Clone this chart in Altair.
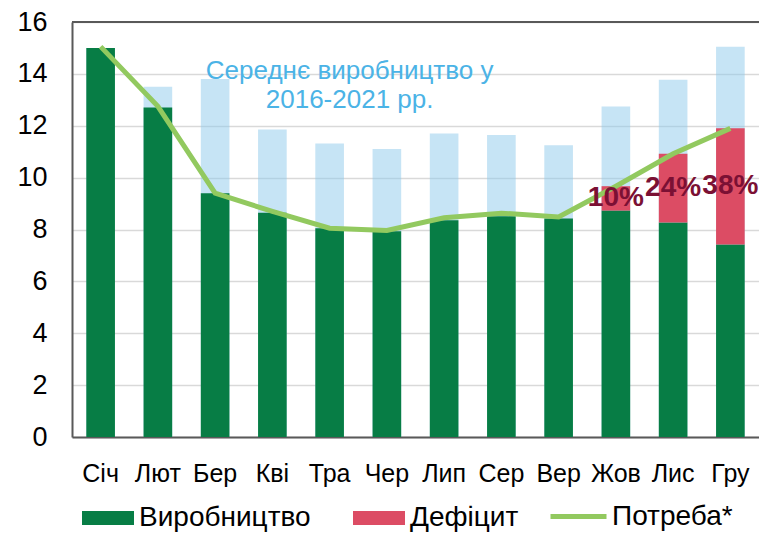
import altair as alt
import pandas as pd

months = ["Січ", "Лют", "Бер", "Кві", "Тра", "Чер", "Лип", "Сер", "Вер", "Жов", "Лис", "Гру"]
avg_2016_2021 = [15.0, 13.5, 13.8, 11.86, 11.32, 11.1, 11.7, 11.64, 11.25, 12.74, 13.77, 15.05]
production = [15.0, 12.7, 9.4, 8.65, 8.05, 7.93, 8.36, 8.51, 8.42, 8.73, 8.27, 7.42]
deficit = [0, 0, 0, 0, 0, 0, 0, 0, 0, 0.94, 2.65, 4.48]
demand = [15.05, 12.75, 9.4, 8.7, 8.05, 7.96, 8.45, 8.63, 8.48, 9.67, 10.92, 11.9]
deficit_labels = ["", "", "", "", "", "", "", "", "", "10%", "24%", "38%"]
series_names = ["Виробництво", "Дефіцит"]
demand_name = "Потреба*"
note_text = ["Середнє виробництво у\n2016-2021 рр."]
note_month = ["Тра"]
note_value = [14.1]
y_ticks = [0, 2, 4, 6, 8, 10, 12, 14, 16]

GREEN = "#077D45"
RED = "#DC4C64"
LINE = "#92C95F"
FRAME = "#595959"

df = pd.DataFrame({
    "month": months,
    "avg": avg_2016_2021,
    "prod": production,
    "def": deficit,
    "demand": demand,
    "label": deficit_labels,
})
df["mid"] = df["prod"] + df["def"] / 2
df["series"] = demand_name

stack_df = pd.concat([
    pd.DataFrame({"month": months, "series": series_names[0], "value": production, "ord": 0}),
    pd.DataFrame({"month": months, "series": series_names[1], "value": deficit, "ord": 1}),
], ignore_index=True)

note_df = pd.DataFrame({"month": note_month, "v": note_value, "t": note_text})
top_df = pd.DataFrame({"v": [y_ticks[-1]]})

x_axis = alt.Axis(title=None, labelAngle=0, labelFontSize=25, labelPadding=24,
                  ticks=False, domainColor=FRAME, domainWidth=2, labelColor="black")
x_enc = alt.X("month:N", sort=months,
              scale=alt.Scale(paddingInner=0.5, paddingOuter=0.25),
              axis=x_axis)
y_scale = alt.Scale(domain=[0, 16], nice=False, zero=True)
y_axis = alt.Axis(title=None, values=y_ticks, labelFontSize=27, labelPadding=25,
                  ticks=False, domainColor=FRAME, domainWidth=2,
                  gridColor="#D9D9D9", gridWidth=1.5, labelColor="black")

avg_bars = alt.Chart(df).mark_bar(color="#8DC9EB", opacity=0.5).encode(
    x=x_enc, y=alt.Y("avg:Q", scale=y_scale, axis=y_axis))

stack_bars = alt.Chart(stack_df).mark_bar().encode(
    x=x_enc,
    y=alt.Y("value:Q", stack="zero", scale=y_scale, axis=y_axis),
    order=alt.Order("ord:Q"),
    color=alt.Color("series:N",
                    scale=alt.Scale(domain=series_names, range=[GREEN, RED]),
                    legend=alt.Legend(title=None, orient="none", direction="horizontal",
                                      legendX=10, legendY=470, padding=0,
                                      symbolType="M-1,-0.27H1V0.27H-1Z", symbolSize=2704,
                                      symbolStrokeWidth=0, labelFontSize=28, labelOffset=5,
                                      columnPadding=42, labelLimit=400, labelColor="black")),
)

line = alt.Chart(df).mark_line(strokeWidth=5).encode(
    x=x_enc,
    y=alt.Y("demand:Q", scale=y_scale, axis=y_axis),
    stroke=alt.Stroke("series:N",
                      scale=alt.Scale(domain=[demand_name], range=[LINE]),
                      legend=alt.Legend(title=None, orient="none", direction="horizontal",
                                        legendX=476, legendY=464, padding=0,
                                        symbolType="stroke", symbolSize=3136,
                                        symbolStrokeWidth=5, labelFontSize=28, labelOffset=3,
                                        labelLimit=400, labelColor="black")),
)

labels = alt.Chart(df).mark_text(fontSize=28, fontWeight="bold", color="#7B1034",
                                 baseline="middle", align="center").encode(
    x=x_enc, y=alt.Y("mid:Q", scale=y_scale, axis=y_axis), text="label:N")

note = alt.Chart(note_df).mark_text(fontSize=26, color="#4BB3E6", align="center",
                                    baseline="middle", lineBreak="\n", lineHeight=29,
                                    dx=20).encode(
    x=x_enc, y=alt.Y("v:Q", scale=y_scale, axis=y_axis), text="t:N")

top_rule = alt.Chart(top_df).mark_rule(color=FRAME, strokeWidth=2).encode(
    y=alt.Y("v:Q", scale=y_scale, axis=y_axis))

chart = alt.layer(avg_bars, stack_bars, line, labels, note, top_rule).properties(
    width=687, height=415,
    padding={"left": 64, "top": 14, "right": 0, "bottom": 96},
    autosize=alt.AutoSizeParams(type="none"),
).configure(font="Liberation Sans").configure_view(stroke=None).resolve_scale(
    color="independent")

chart.save("out.html", embed_options={"renderer": "svg", "actions": False})
